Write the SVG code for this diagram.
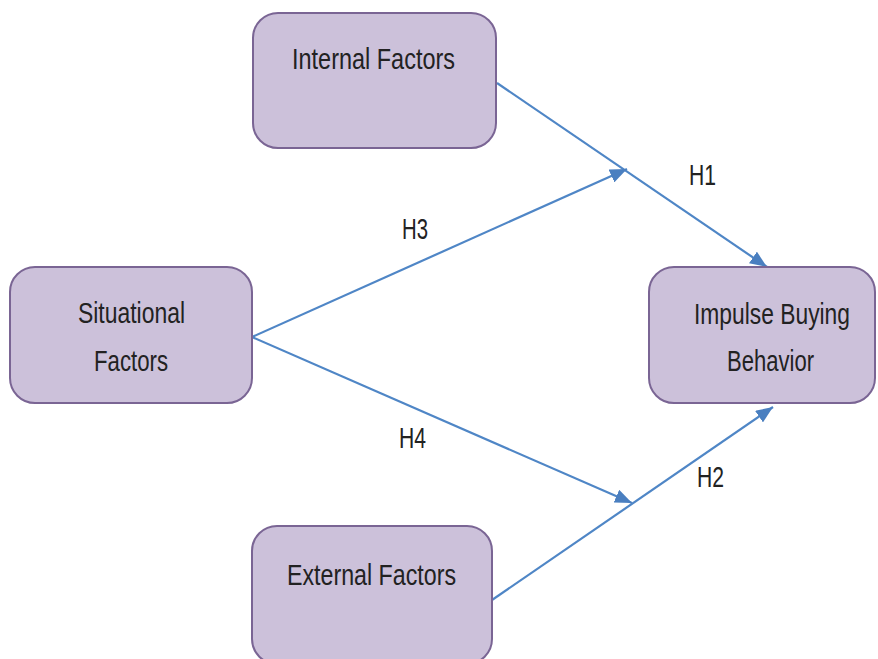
<svg xmlns="http://www.w3.org/2000/svg" width="878" height="659" viewBox="0 0 878 659">
<defs>
<style>
.box{fill:#CCC1DA;stroke:#7A6594;stroke-width:2}
.t{font-family:"Liberation Sans",Arial,sans-serif;font-size:29px;fill:#222;}
.t2{font-family:"Liberation Sans",Arial,sans-serif;font-size:25px;fill:#222;}
.lbl{font-family:"Liberation Sans",Arial,sans-serif;font-size:29px;fill:#222;}
.c{stroke:#4F86C6;stroke-width:2.2;fill:none}
</style>
<marker id="ah" markerUnits="userSpaceOnUse" markerWidth="18" markerHeight="14" refX="17" refY="7" orient="auto">
<path d="M0,0 L17,7 L0,14 Z" fill="#4A7FC0"/>
</marker>
</defs>
<rect width="878" height="659" fill="#fff"/>
<g id="connectors">
<line class="c" x1="497" y1="83" x2="767" y2="267" marker-end="url(#ah)"/>
<line class="c" x1="252" y1="337" x2="627" y2="169" marker-end="url(#ah)"/>
<line class="c" x1="252" y1="337" x2="632" y2="503" marker-end="url(#ah)"/>
<line class="c" x1="492" y1="600" x2="773" y2="407" marker-end="url(#ah)"/>
<text class="lbl" x="689" y="185" textLength="27" lengthAdjust="spacingAndGlyphs">H1</text>
<text class="lbl" x="697" y="487" textLength="27" lengthAdjust="spacingAndGlyphs">H2</text>
<text class="lbl" x="402" y="239" textLength="26" lengthAdjust="spacingAndGlyphs">H3</text>
<text class="lbl" x="399" y="448" textLength="27" lengthAdjust="spacingAndGlyphs">H4</text>
</g>
<g id="internal">
<rect class="box" x="253" y="13" width="243" height="135" rx="25"/>
<text class="t" x="292" y="69" textLength="163" lengthAdjust="spacingAndGlyphs">Internal Factors</text>
</g>
<g id="situational">
<rect class="box" x="10" y="267" width="242" height="136" rx="25"/>
<text class="t" x="78" y="323" textLength="107" lengthAdjust="spacingAndGlyphs">Situational</text>
<text class="t" x="94" y="371" textLength="74" lengthAdjust="spacingAndGlyphs">Factors</text>
</g>
<g id="impulse">
<rect class="box" x="649" y="267" width="226" height="136" rx="25"/>
<text class="t2" transform="translate(772 324) scale(1 1.16)" text-anchor="middle" textLength="156" lengthAdjust="spacingAndGlyphs">Impulse Buying</text>
<text class="t" x="770.5" y="371" text-anchor="middle" textLength="87" lengthAdjust="spacingAndGlyphs">Behavior</text>
</g>
<g id="external">
<rect class="box" x="252" y="526" width="240" height="138" rx="25"/>
<text class="t" x="287" y="585" textLength="169" lengthAdjust="spacingAndGlyphs">External Factors</text>
</g>
</svg>
